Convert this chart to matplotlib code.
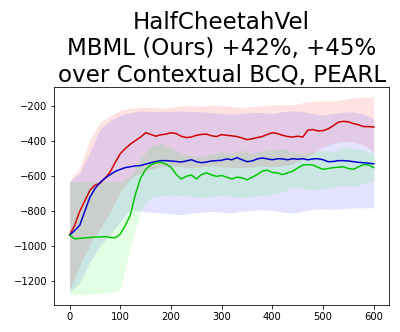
import numpy as np
import matplotlib
matplotlib.use('Agg')
import matplotlib.pyplot as plt

# mean curves, read every 10 steps
steps = np.arange(0, 601, 10)
mbml = [-936, -880, -800, -740, -680, -650, -640, -610, -575, -520,
        -470, -440, -415, -395, -375, -350, -360, -370, -362, -358,
        -350, -355, -370, -378, -375, -365, -360, -358, -368, -372,
        -361, -365, -368, -372, -380, -390, -385, -378, -372, -360,
        -350, -355, -365, -372, -375, -370, -375, -335, -332, -340,
        -338, -328, -310, -290, -285, -288, -298, -305, -315, -315, -318]
cbcq = [-936, -910, -880, -800, -720, -670, -635, -610, -590, -572,
        -560, -550, -545, -540, -538, -530, -522, -515, -510, -510,
        -512, -515, -518, -512, -505, -516, -522, -518, -512, -510,
        -508, -500, -505, -493, -505, -516, -512, -500, -495, -500,
        -505, -499, -500, -505, -499, -502, -499, -505, -500, -499,
        -505, -516, -515, -510, -510, -512, -516, -520, -522, -525, -528]
pearl = [-936, -958, -955, -952, -950, -948, -947, -945, -950, -952,
         -930, -880, -820, -700, -610, -560, -535, -522, -520, -530,
         -548, -588, -615, -600, -592, -615, -590, -580, -592, -600,
         -595, -605, -615, -605, -608, -620, -605, -590, -570, -565,
         -578, -580, -590, -580, -570, -552, -535, -533, -535, -548,
         -560, -555, -550, -548, -545, -555, -560, -545, -532, -535, -550]

# band edges, read every 20 steps
band_steps = np.arange(0, 601, 20)
mbml_hi = [-630, -550, -390, -290, -255, -220, -210, -205, -205, -210,
           -205, -195, -195, -200, -190, -195, -200, -205, -200, -195,
           -190, -190, -188, -178, -170, -168, -170, -160, -150, -145, -145]
mbml_lo = [-1250, -1110, -990, -900, -805, -690, -610, -580, -560, -545,
           -540, -545, -550, -545, -540, -545, -550, -550, -545, -540,
           -545, -540, -530, -500, -470, -430, -410, -400, -405, -420, -460]
cbcq_hi = [-630, -580, -460, -330, -280, -250, -235, -225, -228, -230,
           -228, -225, -230, -230, -235, -240, -245, -240, -232, -235,
           -240, -230, -225, -228, -240, -250, -240, -232, -230, -245, -270]
cbcq_lo = [-1260, -1210, -1090, -1000, -935, -860, -790, -800, -805, -810,
           -815, -820, -810, -805, -800, -805, -810, -800, -795, -790,
           -795, -805, -810, -800, -790, -785, -790, -785, -780, -780, -780]
pearl_hi = [-630, -630, -630, -632, -630, -635, -600, -500, -430, -410,
            -440, -470, -480, -490, -470, -460, -470, -450, -470, -455,
            -450, -440, -460, -470, -460, -450, -460, -430, -440, -450, -470]
pearl_lo = [-1270, -1280, -1275, -1270, -1265, -1250, -1000, -800, -720, -710,
            -705, -710, -715, -720, -715, -710, -715, -720, -715, -710,
            -700, -690, -660, -670, -680, -670, -660, -650, -660, -640, -620]

fig = plt.figure(figsize=(400/72, 332/72), dpi=72)
ax = fig.add_axes([0.136, 0.0813, 0.8365, 0.6567])

ax.fill_between(band_steps, mbml_lo, mbml_hi, color='red', alpha=0.11, lw=0)
ax.fill_between(band_steps, cbcq_lo, cbcq_hi, color='blue', alpha=0.11, lw=0)
ax.fill_between(band_steps, pearl_lo, pearl_hi, color='lime', alpha=0.11, lw=0)

ax.plot(steps, mbml, color='#d00000', lw=1.5)
ax.plot(steps, cbcq, color='#0000d0', lw=1.5)
ax.plot(steps, pearl, color='#00c800', lw=1.5)

ax.set_xticks([0, 100, 200, 300, 400, 500, 600])
ax.set_yticks([-1200, -1000, -800, -600, -400, -200])
ax.tick_params(labelsize=10)
ax.set_title('HalfCheetahVel\nMBML (Ours) +42%, +45%\nover Contextual BCQ, PEARL',
             fontsize=23, pad=1)

fig.savefig('out.png', dpi=72)
